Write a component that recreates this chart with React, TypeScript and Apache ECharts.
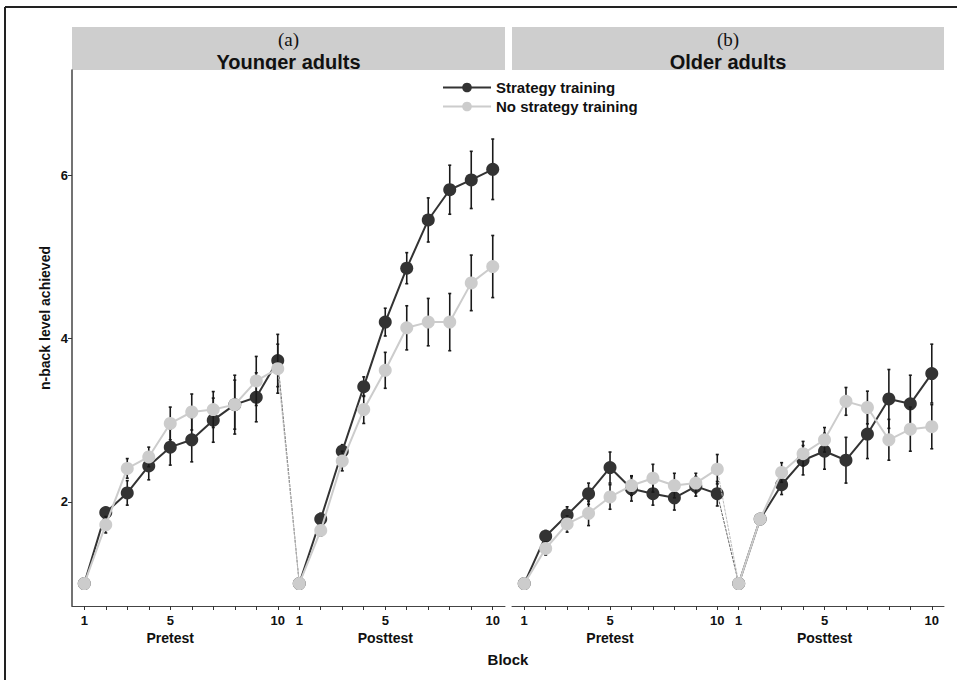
import React, { useEffect, useRef } from "react";
import * as echarts from "echarts";

// ---- Data ----
const blocks = [1, 2, 3, 4, 5, 6, 7, 8, 9, 10];
const panels = ["Younger adults", "Older adults"];
const panelTags = ["(a)", "(b)"];
const groups = ["Strategy training", "No strategy training"];

// Younger adults
const youngPreStrategy = [1.0, 1.87, 2.11, 2.44, 2.67, 2.76, 3.0, 3.19, 3.28, 3.73];
const youngPostStrategy = [1.0, 1.79, 2.62, 3.41, 4.2, 4.86, 5.45, 5.82, 5.94, 6.07];
const youngPreNo = [1.0, 1.72, 2.41, 2.55, 2.96, 3.1, 3.13, 3.19, 3.48, 3.63];
const youngPostNo = [1.0, 1.65, 2.5, 3.13, 3.61, 4.13, 4.2, 4.2, 4.68, 4.88];
const youngPreStrategyErr = [0, 0.06, 0.15, 0.17, 0.22, 0.27, 0.27, 0.3, 0.3, 0.32];
const youngPostStrategyErr = [0, 0.07, 0.08, 0.12, 0.17, 0.19, 0.27, 0.3, 0.35, 0.37];
const youngPreNoErr = [0, 0.1, 0.12, 0.12, 0.2, 0.22, 0.22, 0.36, 0.3, 0.3];
const youngPostNoErr = [0, 0.07, 0.12, 0.17, 0.22, 0.27, 0.29, 0.35, 0.34, 0.38];

// Older adults
const oldPreStrategy = [1.0, 1.58, 1.84, 2.1, 2.42, 2.16, 2.1, 2.05, 2.19, 2.1];
const oldPostStrategy = [1.0, 1.79, 2.21, 2.51, 2.62, 2.51, 2.83, 3.26, 3.2, 3.57];
const oldPreNo = [1.0, 1.43, 1.73, 1.86, 2.06, 2.2, 2.29, 2.2, 2.23, 2.4];
const oldPostNo = [1.0, 1.79, 2.36, 2.59, 2.76, 3.23, 3.155, 2.76, 2.89, 2.92];
const oldPreStrategyErr = [0, 0.07, 0.1, 0.13, 0.19, 0.15, 0.14, 0.15, 0.12, 0.15];
const oldPostStrategyErr = [0, 0.06, 0.12, 0.18, 0.22, 0.28, 0.3, 0.36, 0.35, 0.36];
const oldPreNoErr = [0, 0.08, 0.1, 0.15, 0.15, 0.12, 0.17, 0.15, 0.12, 0.18];
const oldPostNoErr = [0, 0.06, 0.12, 0.15, 0.15, 0.17, 0.2, 0.25, 0.27, 0.27];

// Axis ticks / labels
const xTickValues = [1, 2, 3, 4, 5, 6, 7, 8, 9, 10, 11, 12, 13, 14, 15, 16, 17, 18, 19, 20];
const xLabelValues = [1, 5, 10, 11, 15, 20];
const xTickLabels = ["1", "5", "10", "1", "5", "10"];
const xPhaseLabels = ["", "Pretest", "", "", "Posttest", ""];
const yTickValues = [2, 4, 6];
const xTitle = "Block";
const yTitle = "n-back level achieved";

const FONT = "Liberation Sans, Arial, sans-serif";
const DARK = "#333333";
const LIGHT = "#cccccc";

type GroupData = { pre: number[]; post: number[]; preErr: number[]; postErr: number[] };
const panelData: GroupData[][] = [
  [
    { pre: youngPreStrategy, post: youngPostStrategy, preErr: youngPreStrategyErr, postErr: youngPostStrategyErr },
    { pre: youngPreNo, post: youngPostNo, preErr: youngPreNoErr, postErr: youngPostNoErr },
  ],
  [
    { pre: oldPreStrategy, post: oldPostStrategy, preErr: oldPreStrategyErr, postErr: oldPostStrategyErr },
    { pre: oldPreNo, post: oldPostNo, preErr: oldPreNoErr, postErr: oldPostNoErr },
  ],
];
const groupColors = [DARK, LIGHT];
const connectorColors = ["#666666", "#bbbbbb"];

function buildSeries() {
  const series: any[] = [];
  panelData.forEach((pg, pi) => {
    pg.forEach((g, gi) => {
      const color = groupColors[gi];
      const preXY = blocks.map((b, i) => [b, g.pre[i]]);
      const postXY = blocks.map((b, i) => [b + 10, g.post[i]]);
      const errData = [
        ...blocks.map((b, i) => [b, g.pre[i] - g.preErr[i], g.pre[i] + g.preErr[i]]),
        ...blocks.map((b, i) => [b + 10, g.post[i] - g.postErr[i], g.post[i] + g.postErr[i]]),
      ];
      series.push({
        type: "custom",
        name: "err-" + pi + "-" + gi,
        xAxisIndex: pi,
        yAxisIndex: pi,
        z: 1 + gi * 3,
        silent: true,
        data: errData,
        encode: { x: 0, y: [1, 2] },
        renderItem: (params: any, api: any) => {
          const x = api.value(0);
          const lo = api.coord([x, api.value(1)]);
          const hi = api.coord([x, api.value(2)]);
          const st = { stroke: "#1a1a1a", lineWidth: 1.6 };
          return {
            type: "group",
            children: [
              { type: "line", shape: { x1: lo[0], y1: lo[1], x2: hi[0], y2: hi[1] }, style: st },
              { type: "line", shape: { x1: lo[0] - 1.5, y1: lo[1], x2: lo[0] + 1.5, y2: lo[1] }, style: st },
              { type: "line", shape: { x1: hi[0] - 1.5, y1: hi[1], x2: hi[0] + 1.5, y2: hi[1] }, style: st },
            ],
          };
        },
      });
      series.push({
        type: "line",
        name: "conn-" + pi + "-" + gi,
        xAxisIndex: pi,
        yAxisIndex: pi,
        z: 2 + gi * 3,
        silent: true,
        symbol: "none",
        data: [preXY[9], postXY[0]],
        lineStyle: { color: connectorColors[gi], width: 1, type: [3, 1] },
      });
      [preXY, postXY].forEach((d) => {
        series.push({
          type: "line",
          name: groups[gi],
          xAxisIndex: pi,
          yAxisIndex: pi,
          z: 3 + gi * 3,
          data: d,
          symbol: "circle",
          symbolSize: 13,
          itemStyle: { color, borderWidth: 0 },
          lineStyle: { color, width: 2 },
        });
      });
    });
  });
  return series;
}

function xLabelFormatter(v: number) {
  const i = xLabelValues.indexOf(v);
  if (i < 0) return "";
  let s = `{t|${xTickLabels[i]}}`;
  if (xPhaseLabels[i]) s += `\n{p|${xPhaseLabels[i]}}`;
  return s;
}

export default function App() {
  const ref = useRef<HTMLDivElement>(null);
  useEffect(() => {
    if (!ref.current) return;
    const chart = echarts.init(ref.current, undefined, { renderer: "svg" });
    const grids = [
      { left: 72, right: 452, top: 70, bottom: 74 },
      { left: 512, right: 13, top: 70, bottom: 74 },
    ];
    const stripX = [
      [72, 505],
      [512, 944],
    ];
    const graphics: any[] = [
      // outer frame lines
      { type: "line", shape: { x1: 5, y1: 7, x2: 957, y2: 7 }, style: { stroke: "#222", lineWidth: 2 }, z: 10 },
      { type: "line", shape: { x1: 5, y1: 7, x2: 5, y2: 680 }, style: { stroke: "#222", lineWidth: 2 }, z: 10 },
      {
        type: "text",
        x: 508,
        y: 659,
        style: { text: xTitle, fontFamily: FONT, fontWeight: "bold", fontSize: 15, fill: "#111", align: "center", verticalAlign: "middle" },
      },
      {
        type: "text",
        x: 45,
        y: 318,
        rotation: Math.PI / 2,
        style: { text: yTitle, fontFamily: FONT, fontWeight: "bold", fontSize: 14, fill: "#111", align: "center", verticalAlign: "middle" },
      },
    ];
    stripX.forEach(([x0, x1], i) => {
      const cx = (x0 + x1) / 2;
      graphics.push(
        { type: "rect", shape: { x: x0, y: 27, width: x1 - x0, height: 43 }, style: { fill: "#cecece" }, z: 0 },
        {
          type: "text",
          x: cx,
          y: 39,
          z: 1,
          style: { text: panelTags[i], fontFamily: "Liberation Serif, Times New Roman, serif", fontSize: 19, fill: "#111", align: "center", verticalAlign: "middle" },
        },
        {
          type: "text",
          x: cx,
          y: 61.5,
          z: 1,
          style: { text: panels[i], fontFamily: FONT, fontWeight: "bold", fontSize: 20, fill: "#111", align: "center", verticalAlign: "middle" },
        },
        { type: "rect", shape: { x: x0 + 1.5, y: 70, width: x1 - x0 - 1.5, height: 6 }, style: { fill: "#ffffff" }, z: 2 }
      );
    });

    const option: any = {
      animation: false,
      backgroundColor: "#ffffff",
      grid: grids,
      legend: {
        data: groups,
        orient: "vertical",
        left: 437,
        top: 75,
        itemWidth: 48,
        itemHeight: 12,
        itemGap: 4,
        textStyle: { fontFamily: FONT, fontWeight: "bold", fontSize: 15, color: "#111" },
      },
      xAxis: [0, 1].map((i) => ({
        type: "value",
        gridIndex: i,
        min: 0.43,
        max: 20.57,
        axisLine: { show: true, onZero: false, lineStyle: { color: "#444", width: 1 } },
        axisTick: { show: true, length: 4, customValues: xTickValues, lineStyle: { color: "#333", width: 1 } },
        axisLabel: {
          customValues: xLabelValues,
          formatter: xLabelFormatter,
          margin: 6,
          rich: {
            t: { fontFamily: FONT, fontWeight: "bold", fontSize: 13, color: "#111", lineHeight: 16 },
            p: { fontFamily: FONT, fontWeight: "bold", fontSize: 14, color: "#111", lineHeight: 19 },
          },
        },
        splitLine: { show: false },
      })),
      yAxis: [0, 1].map((i) => ({
        type: "value",
        gridIndex: i,
        min: 0.726,
        max: 7.285,
        axisLine: { show: i === 0, onZero: false, lineStyle: { color: "#444", width: 1.5 } },
        axisTick: { show: i === 0, length: 4, customValues: yTickValues, lineStyle: { color: "#333" } },
        axisLabel: {
          show: i === 0,
          customValues: yTickValues,
          margin: 4,
          fontFamily: FONT,
          fontWeight: "bold",
          fontSize: 13,
          color: "#111",
        },
        splitLine: { show: false },
      })),
      series: buildSeries(),
      graphic: graphics,
    };
    chart.setOption(option);
    return () => chart.dispose();
  }, []);
  return (
    <div
      ref={ref}
      style={{ position: "fixed", left: 0, top: 0, width: 957, height: 680, background: "#fff" }}
    />
  );
}
